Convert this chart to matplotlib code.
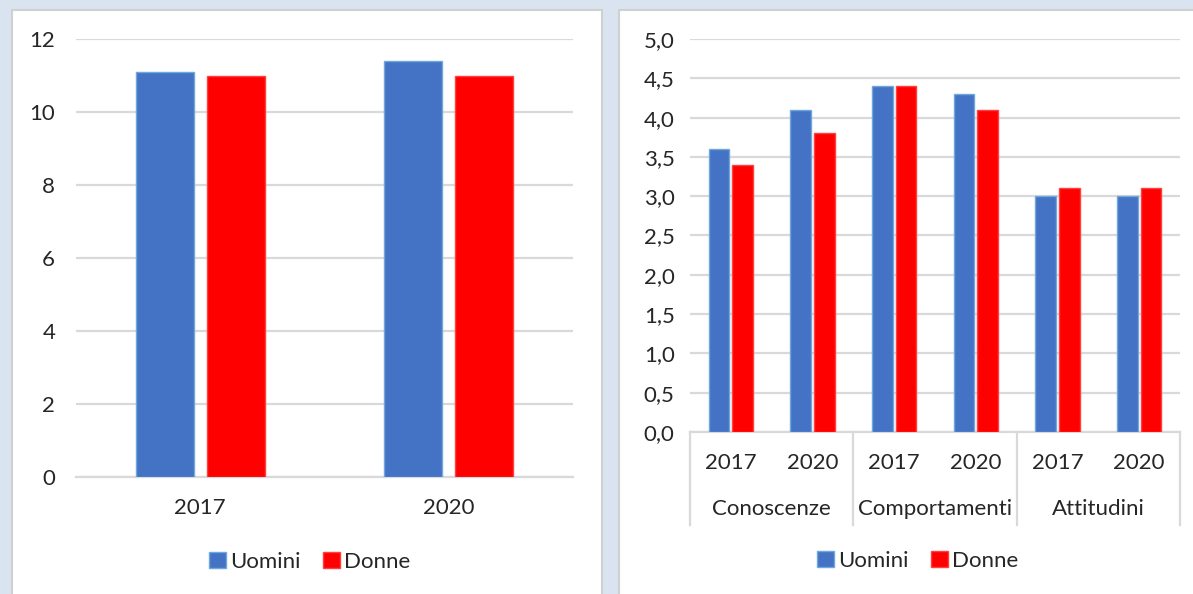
import matplotlib.pyplot as plt
from matplotlib.patches import Rectangle
from matplotlib.lines import Line2D
from matplotlib.transforms import blended_transform_factory
import numpy as np

plt.rcParams['font.family'] = ['Lato', 'DejaVu Sans']

# dati - grafico sinistro
anni = ['2017', '2020']
uomini_tot = [11.1, 11.4]
donne_tot = [11.0, 11.0]

# dati - grafico destro
gruppi = ['Conoscenze', 'Comportamenti', 'Attitudini']
anni_dx = ['2017', '2020', '2017', '2020', '2017', '2020']
uomini_dx = [3.6, 4.1, 4.4, 4.3, 3.0, 3.0]
donne_dx = [3.4, 3.8, 4.4, 4.1, 3.1, 3.1]

BLU = '#4472C4'
BLU_BORDO = '#6FA8DC'
ROSSO = '#FF0000'
GRIGIO = '#D9D9D9'
TESTO = '#262626'
FS = 16

W, H = 1193, 594
fig = plt.figure(figsize=(W / 100, H / 100), dpi=100)
fig.patch.set_facecolor('#DAE4F0')


def px_rect(x0, y0, x1, y1):
    return [x0 / W, 1 - y1 / H, (x1 - x0) / W, (y1 - y0) / H]


# pannelli bianchi
for x0, x1 in [(12, 602), (619, 1195)]:
    r = Rectangle((x0 / W, -0.01), (x1 - x0) / W, 1.01 - 10 / H, transform=fig.transFigure,
                  facecolor='white', edgecolor='#D0D0D0', linewidth=1.5, zorder=-10)
    fig.patches.append(r)

# ---- grafico sinistro ----
ax1 = fig.add_axes(px_rect(76, 39, 573, 477))
ax1.set_facecolor('none')
x = np.arange(len(anni))
w = 0.233
ax1.bar(x - 0.143, uomini_tot, w, color=BLU, edgecolor=BLU_BORDO, linewidth=1, label='Uomini', zorder=3)
ax1.bar(x + 0.143, donne_tot, w, color=ROSSO, edgecolor='#FF4040', linewidth=1, label='Donne', zorder=3)
ax1.set_xlim(-0.5, 1.5)
ax1.set_ylim(0, 12)
ax1.set_yticks(range(0, 13, 2))
ax1.set_xticks(x)
ax1.set_xticklabels(anni)
ax1.tick_params(axis='both', length=0, labelsize=FS, colors=TESTO)
ax1.tick_params(axis='x', pad=15)
ax1.tick_params(axis='y', pad=15)
ax1.grid(axis='y', color=GRIGIO, linewidth=1.6, zorder=0)
for s in ['top', 'right', 'left']:
    ax1.spines[s].set_visible(False)
ax1.spines['bottom'].set_color(GRIGIO)
ax1.spines['bottom'].set_linewidth(1.6)
fig.legend(*ax1.get_legend_handles_labels(), loc='center', bbox_to_anchor=(310 / W, 1 - 562 / H),
           ncol=2, frameon=False, fontsize=FS, handlelength=0.75, handleheight=0.75,
           handletextpad=0.2, columnspacing=1.0, labelcolor=TESTO)

# ---- grafico destro ----
ax2 = fig.add_axes(px_rect(690, 39, 1180, 432))
ax2.set_facecolor('none')
x2 = np.arange(len(anni_dx))
w2 = 0.25
ax2.bar(x2 - 0.145, uomini_dx, w2, color=BLU, edgecolor=BLU_BORDO, linewidth=1, label='Uomini', zorder=3)
ax2.bar(x2 + 0.145, donne_dx, w2, color=ROSSO, edgecolor='#FF4040', linewidth=1, label='Donne', zorder=3)
ax2.set_xlim(-0.5, 5.5)
ax2.set_ylim(0, 5)
ax2.set_yticks(np.arange(0, 5.01, 0.5))
ax2.set_yticklabels([f'{v:.1f}'.replace('.', ',') for v in np.arange(0, 5.01, 0.5)])
ax2.set_xticks(x2)
ax2.set_xticklabels(anni_dx)
ax2.tick_params(axis='both', length=0, labelsize=FS, colors=TESTO)
ax2.tick_params(axis='x', pad=15)
ax2.tick_params(axis='y', pad=11)
ax2.grid(axis='y', color=GRIGIO, linewidth=1.6, zorder=0)
for s in ['top', 'right', 'left']:
    ax2.spines[s].set_visible(False)
ax2.spines['bottom'].set_color(GRIGIO)
ax2.spines['bottom'].set_linewidth(1.6)

trans = blended_transform_factory(ax2.transData, ax2.transAxes)
h_ax = 432 - 39
for xs in [-0.5, 1.5, 3.5, 5.5]:
    ax2.add_line(Line2D([xs, xs], [0, -(525 - 432) / h_ax], transform=trans, color=GRIGIO,
                        linewidth=1.6, clip_on=False))
for i, g in enumerate(gruppi):
    ax2.text(2 * i + 0.5, -(509 - 432) / h_ax, g, transform=trans, ha='center', va='center',
             fontsize=FS, color=TESTO)

fig.legend(*ax2.get_legend_handles_labels(), loc='center', bbox_to_anchor=(918 / W, 1 - 561 / H),
           ncol=2, frameon=False, fontsize=FS, handlelength=0.75, handleheight=0.75,
           handletextpad=0.2, columnspacing=1.0, labelcolor=TESTO)

fig.savefig('out.png', dpi=100, facecolor=fig.get_facecolor())
